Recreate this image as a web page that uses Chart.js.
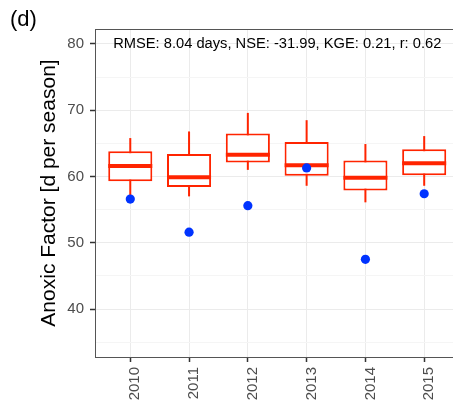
<!DOCTYPE html>
<html><head><meta charset="utf-8">
<script src="https://cdn.jsdelivr.net/npm/chart.js@4"></script>
<style>html,body{margin:0;padding:0;background:#fff}#wrap{width:453px;height:407px;position:relative}</style>
</head><body><div id="wrap"><canvas id="c"></canvas></div>
<script>
const years = ['2010', '2011', '2012', '2013', '2014', '2015'];
const whiskerLow = [57.0, 57.0, 61.0, 58.6, 56.1, 58.6];
const boxQ1 = [59.3, 58.4, 62.1, 60.1, 57.9, 60.2];
const boxMedian = [61.6, 59.9, 63.3, 61.7, 59.8, 62.0];
const boxQ3 = [63.8, 63.4, 66.5, 65.2, 62.4, 64.1];
const whiskerHigh = [65.8, 66.8, 69.6, 68.5, 64.9, 66.1];
const observed = [56.6, 51.6, 55.6, 61.3, 47.5, 57.4];
const yTicks = [35, 40, 45, 50, 55, 60, 65, 70, 75, 80];
const statsLabel = 'RMSE: 8.04 days, NSE: -31.99, KGE: 0.21, r: 0.62';
const statsAt = { x: 2.5, y: 80 };
const panelLabel = '(d)';
const yTitle = 'Anoxic Factor [d per season]';

const FONT = '"Liberation Sans", Arial, sans-serif';
const RED = '#ff2400';
const BLUE = '#0033ff';
const isMajor = c => c.tick && Math.abs(c.tick.value % 10) < 1e-6;

const annot = {
  id: 'annot',
  beforeDatasetsDraw(chart) {
    const { ctx, chartArea } = chart;
    ctx.save();
    ctx.strokeStyle = '#555';
    ctx.lineWidth = 1;
    const t = Math.round(chartArea.top) + 0.5;
    ctx.beginPath();
    ctx.moveTo(chartArea.left, t);
    ctx.lineTo(chartArea.right, t);
    ctx.stroke();
    ctx.restore();
  },
  afterDraw(chart) {
    const { ctx, scales: { x, y } } = chart;
    ctx.save();
    ctx.fillStyle = '#000';
    ctx.font = '14.7px ' + FONT;
    ctx.textAlign = 'center';
    ctx.textBaseline = 'middle';
    ctx.fillText(statsLabel, x.getPixelForValue(statsAt.x), y.getPixelForValue(statsAt.y));
    ctx.font = '22px ' + FONT;
    ctx.textAlign = 'left';
    ctx.textBaseline = 'alphabetic';
    ctx.fillText(panelLabel, 10, 26);
    ctx.restore();
  }
};

new Chart(document.getElementById('c'), {
  type: 'bar',
  data: {
    datasets: [
      { type: 'scatter', data: observed.map((v, i) => ({ x: i, y: v })),
        backgroundColor: BLUE, borderColor: BLUE, borderWidth: 0, pointRadius: 4.6, pointHoverRadius: 4.6 },
      { type: 'scatter', data: boxMedian.map((v, i) => ({ x: i, y: v })),
        pointStyle: 'line', pointRadius: 22, pointHoverRadius: 22, borderColor: RED, borderWidth: 4 },
      { type: 'bar', data: boxQ1.map((v, i) => ({ x: i, y: [v, boxQ3[i]] })),
        backgroundColor: '#fff', borderColor: RED, borderWidth: 2, borderSkipped: false,
        grouped: false, categoryPercentage: 1, barPercentage: 0.75 },
      { type: 'bar', data: whiskerLow.map((v, i) => ({ x: i, y: [v, whiskerHigh[i]] })),
        backgroundColor: RED, borderWidth: 0, grouped: false, categoryPercentage: 1, barPercentage: 0.75, maxBarThickness: 2 }
    ]
  },
  options: {
    responsive: true,
    maintainAspectRatio: false,
    animation: false,
    events: [],
    layout: { autoPadding: false, padding: { top: 29, left: 0, right: 0, bottom: 0 } },
    plugins: { legend: { display: false }, tooltip: { enabled: false }, title: { display: false } },
    scales: {
      x: {
        type: 'linear', min: -0.6, max: 5.49, offset: false,
        afterBuildTicks: s => { s.ticks = years.map((_, i) => ({ value: i })); },
        afterFit: s => { s.height = 50; s.paddingLeft = 0; s.paddingRight = 0; },
        ticks: { autoSkip: false, minRotation: 90, maxRotation: 90, padding: 5, labelOffset: 5,
                 color: '#4d4d4d', font: { size: 15, family: FONT }, callback: v => years[v] },
        grid: { offset: false, color: '#ebebeb', lineWidth: 1, tickLength: 5, tickColor: '#333', tickWidth: 1.5 },
        border: { color: '#555', width: 1 }
      },
      y: {
        type: 'linear', min: 32.76, max: 82.26,
        afterBuildTicks: s => { s.ticks = yTicks.map(v => ({ value: v })); },
        afterFit: s => { s.width = 95; s.paddingTop = 0; s.paddingBottom = 0; },
        ticks: { autoSkip: false, padding: 6, color: '#4d4d4d', font: { size: 15, family: FONT },
                 callback: v => (Math.abs(v % 10) < 1e-6 ? String(v) : '') },
        grid: { color: c => (isMajor(c) ? '#ebebeb' : '#f5f5f5'), lineWidth: 1, tickLength: 5,
                tickColor: c => (isMajor(c) ? '#333' : 'rgba(0,0,0,0)'), tickWidth: 1.5 },
        border: { color: '#555', width: 1 },
        title: { display: true, text: yTitle, color: '#000', font: { size: 21, family: FONT }, padding: { top: 37, bottom: 0 } }
      }
    }
  },
  plugins: [annot]
});
</script></body></html>
